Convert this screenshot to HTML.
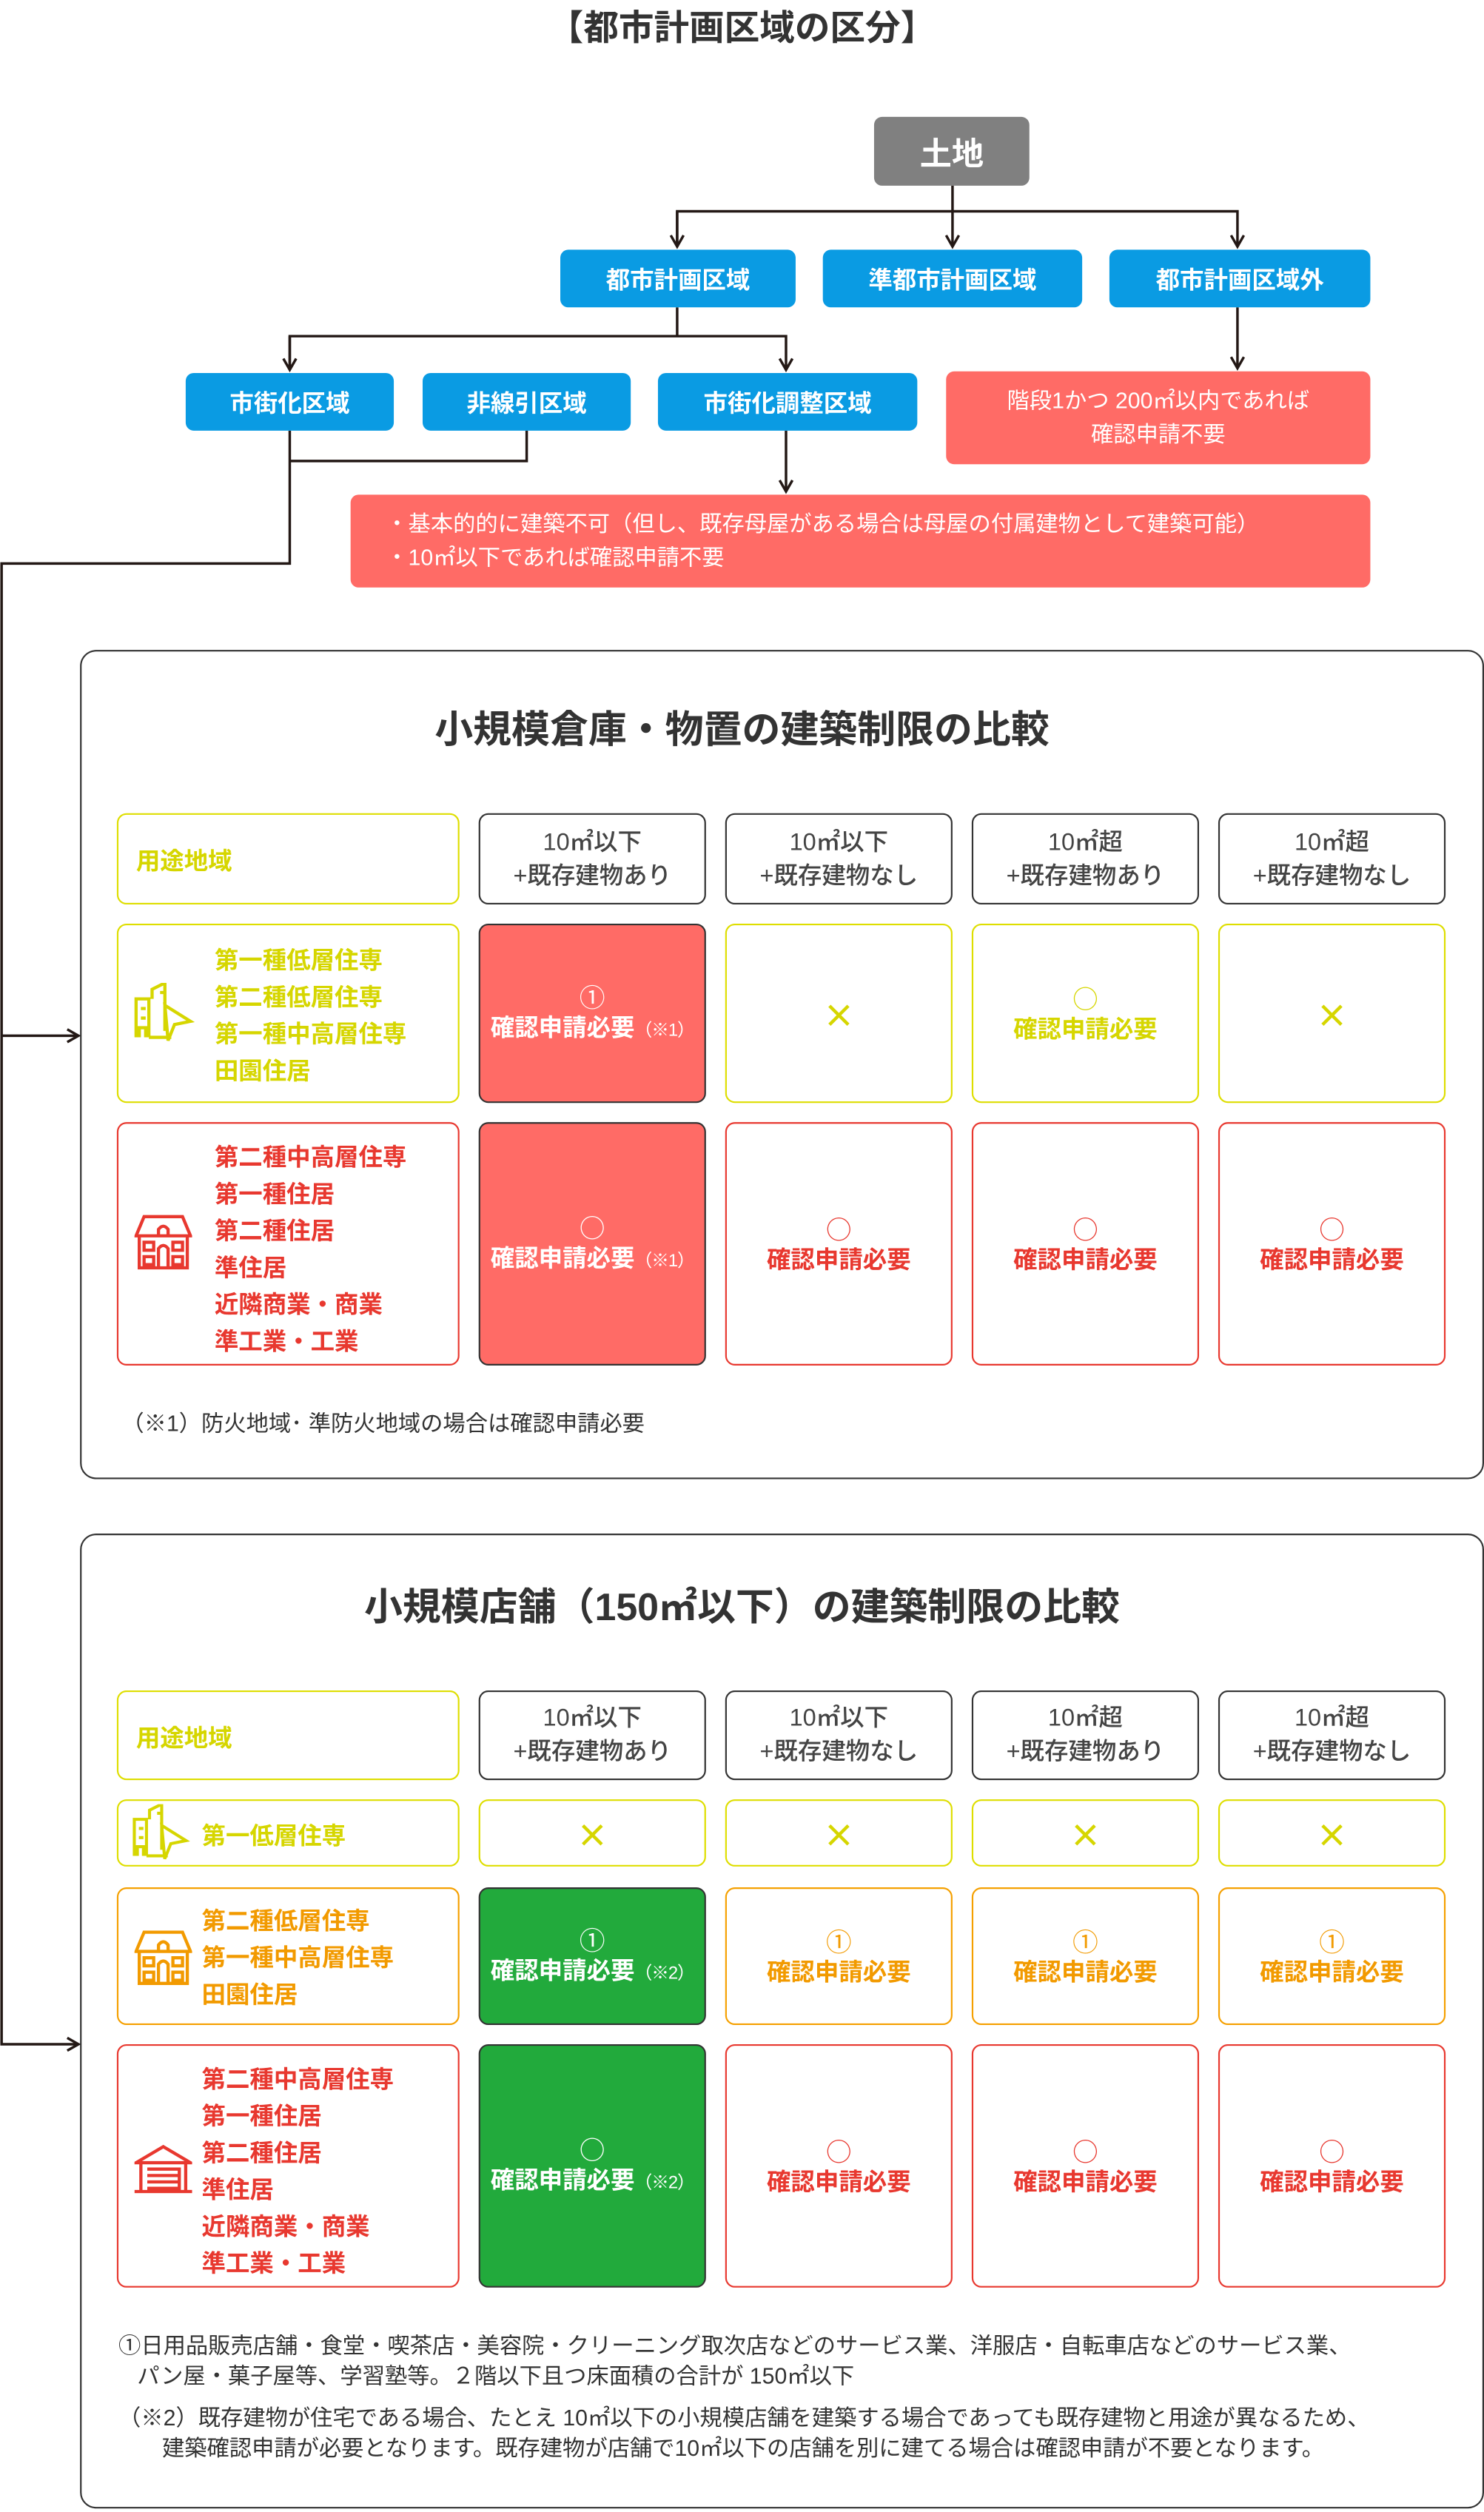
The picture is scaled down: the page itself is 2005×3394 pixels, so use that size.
<!DOCTYPE html>
<html><head><meta charset="utf-8">
<style>
html,body{margin:0;padding:0;background:#fff;}
body{width:2005px;height:3393px;overflow:hidden;}
#w{position:absolute;left:0;top:0;width:927px;height:1569px;transform:scale(2.16289);transform-origin:0 0;font-family:"Liberation Sans","Noto Sans CJK JP",sans-serif;}
.a{position:absolute;}
.b{position:absolute;box-sizing:border-box;display:flex;align-items:center;justify-content:center;border-radius:5px;color:#fff;font-weight:bold;font-size:15px;}
.blue{background:#0a9be3;}
.sal{background:#ff6b66;color:#fff;font-weight:normal;font-size:14px;line-height:21px;text-align:center;}
.c{position:absolute;box-sizing:border-box;border:1.5px solid #333;border-radius:6px;display:flex;flex-direction:column;align-items:center;justify-content:center;font-size:15px;line-height:21px;text-align:center;white-space:nowrap;}
.hd{color:#444;font-weight:500;}
.y{border-color:#dede00;color:#d6d600;font-weight:bold;}
.r{border-color:#e8382f;color:#e8382f;font-weight:bold;}
.o{border-color:#f5a000;color:#f29a00;font-weight:bold;}
.fr{background:#ff6b66;color:#fff;font-weight:bold;border-color:#333;}
.fg{background:#22aa3c;color:#fff;font-weight:bold;border-color:#333;}
.lab{position:absolute;box-sizing:border-box;border:1.5px solid;border-radius:6px;}
.lt{position:absolute;font-weight:bold;font-size:15px;line-height:23px;}
.panel{position:absolute;box-sizing:border-box;border:1.5px solid #333;border-radius:10px;}
.t{position:absolute;left:0;width:100%;text-align:center;font-size:24px;font-weight:bold;color:#333;}
.sm{font-size:11px;font-weight:normal;letter-spacing:-0.5px;}
.x{font-family:"Noto Sans CJK JP",sans-serif;font-size:20px;font-weight:bold;}
.m{font-family:"Noto Sans CJK JP",sans-serif;font-size:16px;font-weight:normal;line-height:20px;}
.note{position:absolute;font-size:14px;color:#333;line-height:19px;}
</style></head><body><div id="w">

<div class="a" style="left:0;width:927px;top:0;text-align:center;font-size:22px;font-weight:bold;color:#333;">【都市計画区域の区分】</div>

<div class="b" style="left:546px;top:73px;width:97px;height:43px;background:#808080;font-size:20px;">土地</div>

<svg class="a" style="left:0;top:0" width="927" height="1569">
<defs><marker id="ar" markerWidth="10" markerHeight="10" refX="8" refY="5" orient="auto" markerUnits="userSpaceOnUse"><path d="M1,1 L8,5 L1,9" fill="none" stroke="#231815" stroke-width="1.6"/></marker></defs>
<g stroke="#231815" stroke-width="1.6" fill="none">
<line x1="595" y1="116" x2="595" y2="154" marker-end="url(#ar)"/>
<polyline points="423,154 423,132 773,132 773,154" marker-end="url(#ar)"/>
<line x1="423" y1="132" x2="423" y2="154" marker-end="url(#ar)"/>
<line x1="423" y1="192" x2="423" y2="210"/>
<polyline points="181,231 181,210 491,210 491,231" marker-end="url(#ar)"/>
<line x1="181" y1="210" x2="181" y2="231" marker-end="url(#ar)"/>
<line x1="773" y1="192" x2="773" y2="230" marker-end="url(#ar)"/>
<line x1="491" y1="269" x2="491" y2="307" marker-end="url(#ar)"/>
<polyline points="329,269 329,288 181,288"/>
<polyline points="181,269 181,352 1,352 1,1277 49,1277" marker-end="url(#ar)"/>
<line x1="1" y1="647" x2="49" y2="647" marker-end="url(#ar)"/>
</g>
</svg>

<div class="b blue" style="left:350px;top:156px;width:147px;height:36px;">都市計画区域</div>
<div class="b blue" style="left:514px;top:156px;width:162px;height:36px;">準都市計画区域</div>
<div class="b blue" style="left:693px;top:156px;width:163px;height:36px;">都市計画区域外</div>
<div class="b blue" style="left:116px;top:233px;width:130px;height:36px;">市街化区域</div>
<div class="b blue" style="left:264px;top:233px;width:130px;height:36px;">非線引区域</div>
<div class="b blue" style="left:411px;top:233px;width:162px;height:36px;">市街化調整区域</div>
<div class="b sal" style="left:591px;top:232px;width:265px;height:58px;"><div>階段1かつ 200㎡以内であれば<br>確認申請不要</div></div>
<div class="b sal" style="left:219px;top:309px;width:637px;height:58px;justify-content:flex-start;padding-left:22px;text-align:left;"><div>・基本的的に建築不可（但し、既存母屋がある場合は母屋の付属建物として建築可能）<br>・10㎡以下であれば確認申請不要</div></div>

<!-- Panel 1 -->
<div class="panel" style="left:50px;top:406px;width:877px;height:518px;"></div>
<div class="t" style="top:436px;">小規模倉庫・物置の建築制限の比較</div>

<div class="lab" style="left:73px;top:508px;width:214px;height:57px;border-color:#dede00;"></div>
<div class="lt" style="left:85px;top:527px;color:#d6d600;">用途地域</div>
<div class="c hd" style="left:299px;top:508px;width:142px;height:57px;">10㎡以下<br>+既存建物あり</div>
<div class="c hd" style="left:453px;top:508px;width:142px;height:57px;">10㎡以下<br>+既存建物なし</div>
<div class="c hd" style="left:607px;top:508px;width:142px;height:57px;">10㎡超<br>+既存建物あり</div>
<div class="c hd" style="left:761px;top:508px;width:142px;height:57px;">10㎡超<br>+既存建物なし</div>

<div class="lab" style="left:73px;top:577px;width:214px;height:112px;border-color:#dede00;"></div>
<svg class="a" style="left:83px;top:614px" width="40" height="40" viewBox="0 0 40 40"><g fill="none" stroke="#d6d600" stroke-width="2"><path d="M2,34 V10 H10 V34 M10,34 H24 M12,10 V4 L20,0 V30 M5,16 H8 M5,22 H8 M17,6 H20 M4,34 V28 H8 V34 M20,14 L36,24 L26,26 L22,36 Z"/></g></svg>
<div class="lt" style="left:134px;top:589px;color:#d6d600;">第一種低層住専<br>第二種低層住専<br>第一種中高層住専<br>田園住居</div>
<div class="c fr" style="left:299px;top:577px;width:142px;height:112px;"><span class="m">①</span><div>確認申請必要<span class="sm">（※1）</span></div></div>
<div class="c y" style="left:453px;top:577px;width:142px;height:112px;"><span class="x">×</span></div>
<div class="c y" style="left:607px;top:577px;width:142px;height:112px;"><span class="m">○</span><div>確認申請必要</div></div>
<div class="c y" style="left:761px;top:577px;width:142px;height:112px;"><span class="x">×</span></div>

<div class="lab" style="left:73px;top:701px;width:214px;height:152px;border-color:#e8382f;"></div>
<svg class="a" style="left:84px;top:758px" width="36" height="36" viewBox="0 0 36 36"><g fill="none" stroke="#e8382f" stroke-width="2"><path d="M1,14 L6,2 H30 L35,14 Z M3,14 V34 H33 V14 M15,34 V22 Q18,18 21,22 V34 M6,18 H12 V23 H6Z M24,18 H30 V23 H24Z M6,27 H12 V32 H6Z M24,27 H30 V32 H24Z M15,14 V10 Q18,6 21,10 V14"/></g></svg>
<div class="lt" style="left:134px;top:712px;color:#e8382f;">第二種中高層住専<br>第一種住居<br>第二種住居<br>準住居<br>近隣商業・商業<br>準工業・工業</div>
<div class="c fr" style="left:299px;top:701px;width:142px;height:152px;"><span class="m">○</span><div>確認申請必要<span class="sm">（※1）</span></div></div>
<div class="c r" style="left:453px;top:701px;width:142px;height:152px;"><span class="m">○</span><div>確認申請必要</div></div>
<div class="c r" style="left:607px;top:701px;width:142px;height:152px;"><span class="m">○</span><div>確認申請必要</div></div>
<div class="c r" style="left:761px;top:701px;width:142px;height:152px;"><span class="m">○</span><div>確認申請必要</div></div>
<div class="note" style="left:76px;top:880px;">（※1）防火地域･ 準防火地域の場合は確認申請必要</div>

<!-- Panel 2 -->
<div class="panel" style="left:50px;top:958px;width:877px;height:609px;"></div>
<div class="t" style="top:984px;">小規模店舗（150㎡以下）の建築制限の比較</div>

<div class="lab" style="left:73px;top:1056px;width:214px;height:56px;border-color:#dede00;"></div>
<div class="lt" style="left:85px;top:1075px;color:#d6d600;">用途地域</div>
<div class="c hd" style="left:299px;top:1056px;width:142px;height:56px;">10㎡以下<br>+既存建物あり</div>
<div class="c hd" style="left:453px;top:1056px;width:142px;height:56px;">10㎡以下<br>+既存建物なし</div>
<div class="c hd" style="left:607px;top:1056px;width:142px;height:56px;">10㎡超<br>+既存建物あり</div>
<div class="c hd" style="left:761px;top:1056px;width:142px;height:56px;">10㎡超<br>+既存建物なし</div>

<div class="lab" style="left:73px;top:1124px;width:214px;height:42px;border-color:#dede00;"></div>
<svg class="a" style="left:82px;top:1127px" width="38" height="38" viewBox="0 0 40 40"><g fill="none" stroke="#d6d600" stroke-width="2"><path d="M2,34 V10 H10 V34 M10,34 H24 M12,10 V4 L20,0 V30 M5,16 H8 M5,22 H8 M17,6 H20 M4,34 V28 H8 V34 M20,14 L36,24 L26,26 L22,36 Z"/></g></svg>
<div class="lt" style="left:126px;top:1136px;color:#d6d600;">第一低層住専</div>
<div class="c y" style="left:299px;top:1124px;width:142px;height:42px;"><span class="x">×</span></div>
<div class="c y" style="left:453px;top:1124px;width:142px;height:42px;"><span class="x">×</span></div>
<div class="c y" style="left:607px;top:1124px;width:142px;height:42px;"><span class="x">×</span></div>
<div class="c y" style="left:761px;top:1124px;width:142px;height:42px;"><span class="x">×</span></div>

<div class="lab" style="left:73px;top:1179px;width:214px;height:86px;border-color:#f5a000;"></div>
<svg class="a" style="left:84px;top:1205px" width="36" height="36" viewBox="0 0 36 36"><g fill="none" stroke="#f29a00" stroke-width="2"><path d="M1,14 L6,2 H30 L35,14 Z M3,14 V34 H33 V14 M15,34 V22 Q18,18 21,22 V34 M6,18 H12 V23 H6Z M24,18 H30 V23 H24Z M6,27 H12 V32 H6Z M24,27 H30 V32 H24Z M15,14 V10 Q18,6 21,10 V14"/></g></svg>
<div class="lt" style="left:126px;top:1189px;color:#f29a00;">第二種低層住専<br>第一種中高層住専<br>田園住居</div>
<div class="c fg" style="left:299px;top:1179px;width:142px;height:86px;"><span class="m">①</span><div>確認申請必要<span class="sm">（※2）</span></div></div>
<div class="c o" style="left:453px;top:1179px;width:142px;height:86px;"><span class="m">①</span><div>確認申請必要</div></div>
<div class="c o" style="left:607px;top:1179px;width:142px;height:86px;"><span class="m">①</span><div>確認申請必要</div></div>
<div class="c o" style="left:761px;top:1179px;width:142px;height:86px;"><span class="m">①</span><div>確認申請必要</div></div>

<div class="lab" style="left:73px;top:1277px;width:214px;height:152px;border-color:#e8382f;"></div>
<svg class="a" style="left:84px;top:1339px" width="36" height="32" viewBox="0 0 36 32"><g fill="none" stroke="#e8382f" stroke-width="2"><path d="M1,12 L18,2 L35,12 Z M4,12 V30 M32,12 V30 M0,30 H36 M8,16 H28 V30 M8,20 H28 M8,24 H28 M8,28 H28"/></g></svg>
<div class="lt" style="left:126px;top:1288px;color:#e8382f;">第二種中高層住専<br>第一種住居<br>第二種住居<br>準住居<br>近隣商業・商業<br>準工業・工業</div>
<div class="c fg" style="left:299px;top:1277px;width:142px;height:152px;"><span class="m">○</span><div>確認申請必要<span class="sm">（※2）</span></div></div>
<div class="c r" style="left:453px;top:1277px;width:142px;height:152px;"><span class="m">○</span><div>確認申請必要</div></div>
<div class="c r" style="left:607px;top:1277px;width:142px;height:152px;"><span class="m">○</span><div>確認申請必要</div></div>
<div class="c r" style="left:761px;top:1277px;width:142px;height:152px;"><span class="m">○</span><div>確認申請必要</div></div>

<div class="note" style="left:74px;top:1456px;width:845px;">①日用品販売店舗・食堂・喫茶店・美容院・クリーニング取次店などのサービス業、洋服店・自転車店などのサービス業、<br>&nbsp;&nbsp;&nbsp;パン屋・菓子屋等、学習塾等。２階以下且つ床面積の合計が 150㎡以下</div>
<div class="note" style="left:74px;top:1501px;width:845px;">（※2）既存建物が住宅である場合、たとえ 10㎡以下の小規模店舗を建築する場合であっても既存建物と用途が異なるため、<br>&nbsp;&nbsp;&nbsp;&nbsp;&nbsp;&nbsp;&nbsp;建築確認申請が必要となります。既存建物が店舗で10㎡以下の店舗を別に建てる場合は確認申請が不要となります。</div>

</div></body></html>
